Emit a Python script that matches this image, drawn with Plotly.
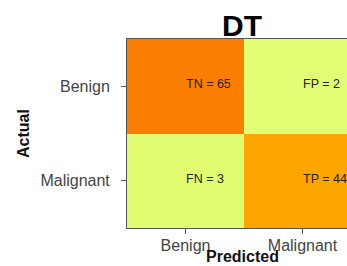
import plotly.graph_objects as go

predicted = ["Benign", "Malignant"]
actual = ["Benign", "Malignant"]
counts = [[65, 2], [3, 44]]
cell_names = [["TN", "FP"], ["FN", "TP"]]
title = "DT"
x_title = "Predicted"
y_title = "Actual"

fig = go.Figure()
fig.add_trace(go.Heatmap(
    x=[0, 1], y=[0, 1], z=counts,
    colorscale=[[0, "#E1FE74"], [0.667, "#FFA500"], [1, "#FA7F00"]],
    showscale=False, hoverinfo="skip", xgap=0, ygap=0,
))

for i, row in enumerate(counts):
    for j, v in enumerate(row):
        fig.add_annotation(x=j, y=i, text=f"{cell_names[i][j]} = {v}", showarrow=False,
                           xanchor="left", xshift=-2, yshift=2,
                           font=dict(family="Liberation Sans", size=12.5, color="#222"))

fig.add_annotation(xref="paper", yref="paper", x=(242 - 127) / 220, y=(228 - 265.5) / 189,
                   text=f"<b>{x_title}</b>", showarrow=False, xanchor="center", yanchor="bottom",
                   borderpad=0, font=dict(family="Liberation Sans", size=16, color="#111"))
fig.add_annotation(xref="paper", yref="paper", x=(23 - 127) / 220, y=(228 - 134) / 189,
                   text=f"<b>{y_title}</b>", showarrow=False, xanchor="center", yanchor="middle",
                   textangle=-90, font=dict(family="Liberation Sans", size=16, color="#111"))

fig.update_layout(
    width=347, height=266,
    margin=dict(l=127, r=0, t=39, b=38, autoexpand=False),
    paper_bgcolor="white", plot_bgcolor="white",
    title=dict(text=f"<b>{title}</b>", x=242/347, xanchor="center", y=1 - 25/266, yanchor="middle",
               font=dict(family="Liberation Sans", size=30, color="black")),
    font=dict(family="Liberation Sans"),
)
fig.update_xaxes(
    tickvals=[0, 1], ticktext=predicted, range=[-0.5, 1.38], automargin=False,
    ticks="outside", ticklen=5, tickcolor="#555", showline=True, linecolor="#555", linewidth=1,
    mirror=True, showgrid=False, zeroline=False, ticklabelstandoff=-2,
    tickfont=dict(size=16, color="#444"),
)
fig.update_yaxes(
    tickvals=[0, 1], ticktext=actual, range=[1.5, -0.5], automargin=False,
    ticks="outside", ticklen=5, tickcolor="#555", showline=True, linecolor="#555", linewidth=1,
    showgrid=False, zeroline=False, ticklabelstandoff=8,
    tickfont=dict(size=16, color="#444"),
)
fig.write_html("out.html", post_script="document.body.style.margin='0';",
               config={"displayModeBar": False})
